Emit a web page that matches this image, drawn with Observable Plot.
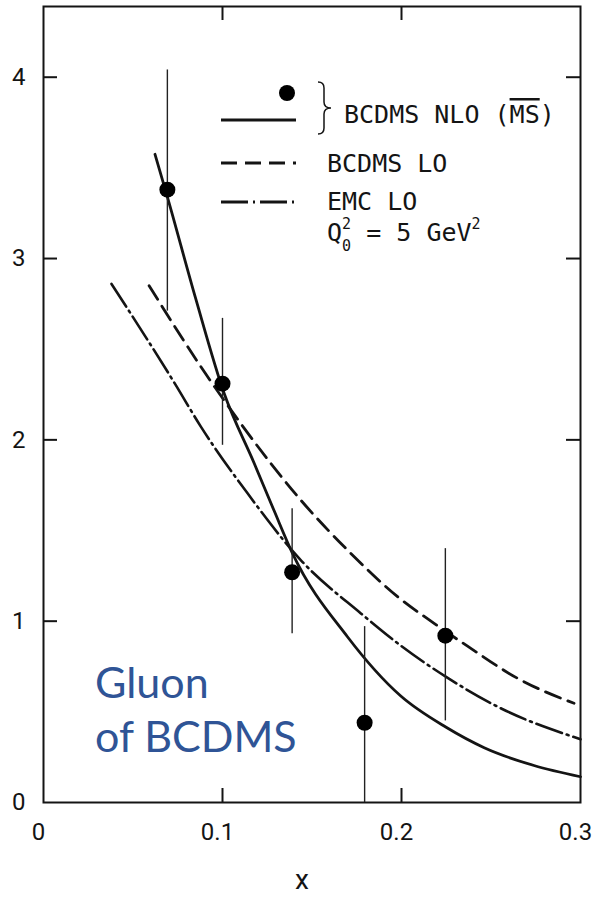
<!DOCTYPE html>
<html>
<head>
<meta charset="utf-8">
<script src="https://cdn.jsdelivr.net/npm/d3@7"></script>
<script src="https://cdn.jsdelivr.net/npm/@observablehq/plot@0.6"></script>
<style>
  html, body { margin: 0; padding: 0; background: #fff; }
  #chart { width: 595px; height: 902px; }
</style>
</head>
<body>
<div id="chart"></div>
<script>
// ---- axes / ticks ----
const xTicks = [0, 0.1, 0.2, 0.3];
const yTicks = [0, 1, 2, 3, 4];
const xDomain = [0, 0.3];
const yDomain = [0, 4.39];
const xTitle = "x";

// ---- BCDMS NLO (MS-bar) data points with errors ----
const dataX    = [0.0692, 0.1000, 0.1389, 0.1794, 0.2245];
const dataY    = [3.38,   2.31,   1.27,   0.44,   0.92];
const dataLow  = [2.71,   1.97,   0.93,   0.00,   0.45];
const dataHigh = [4.04,   2.67,   1.62,   0.97,   1.40];

// ---- BCDMS NLO (solid) ----
const nloX = [0.0623, 0.0692, 0.085, 0.1009, 0.1177, 0.1288, 0.1391, 0.1698, 0.1996, 0.2247, 0.2462, 0.274, 0.300];
const nloY = [3.575,  3.34,   2.78,  2.257,  1.871,  1.61,   1.374,  0.914,  0.587,  0.416,  0.302,  0.204, 0.142];

// ---- BCDMS LO (dashed) ----
const bcdmsLoX = [0.059, 0.0902, 0.1102, 0.1437, 0.1717, 0.1978, 0.2182, 0.2369, 0.2648, 0.2964];
const bcdmsLoY = [2.85,  2.37,   2.09,   1.668,  1.374,  1.135,  0.988,  0.862,  0.685,  0.547];

// ---- EMC LO (dash-dot) ----
const emcLoX = [0.038, 0.0734, 0.0879, 0.114, 0.1437, 0.1773, 0.1996, 0.2247, 0.2554, 0.300];
const emcLoY = [2.86,  2.31,   2.073,  1.705, 1.337,  1.043,  0.865,  0.694,  0.52,   0.349];

// ---- legend / annotation text ----
const legendLabels = ["BCDMS NLO (", "MS", ")", "BCDMS LO", "EMC LO"];
const annotationLines = ["Gluon", "of BCDMS"];

// ---- layout ----
const W = 595, H = 902, mL = 43, mR = 15, mT = 6, mB = 100;
const tickLenPx = 14;
const tx = tickLenPx * (xDomain[1] - xDomain[0]) / (W - mL - mR);
const ty = tickLenPx * (yDomain[1] - yDomain[0]) / (H - mT - mB);
const ink = "#141414";
const dashPattern = "16,8";
const dashDotPattern = "27,5,2,5";

const points = dataX.map((x, i) => ({x, y: dataY[i], lo: dataLow[i], hi: dataHigh[i]}));
const pairs = (xs, ys) => xs.map((x, i) => [x, ys[i]]);
const innerY = yTicks.filter(v => v > yDomain[0] && v < yDomain[1]);
const innerX = xTicks.filter(v => v > xDomain[0] && v < xDomain[1]);

const chart = Plot.plot({
  width: W, height: H,
  marginLeft: mL, marginRight: mR, marginTop: mT, marginBottom: mB,
  style: {background: "#fff", color: ink, fontFamily: "Roboto, 'DejaVu Sans', sans-serif"},
  x: {domain: xDomain, axis: null},
  y: {domain: yDomain, axis: null},
  marks: [
    Plot.frame({stroke: ink, strokeWidth: 2}),
    // inward ticks on all four sides
    Plot.ruleY(innerY, {x1: xDomain[0], x2: xDomain[0] + tx, stroke: ink, strokeWidth: 2}),
    Plot.ruleY(innerY, {x1: xDomain[1] - tx, x2: xDomain[1], stroke: ink, strokeWidth: 2}),
    Plot.ruleX(innerX, {y1: yDomain[0], y2: yDomain[0] + ty, stroke: ink, strokeWidth: 2}),
    Plot.ruleX(innerX, {y1: yDomain[1] - ty, y2: yDomain[1], stroke: ink, strokeWidth: 2}),
    // tick labels
    Plot.axisY(yTicks, {anchor: "left", tickSize: 0, tickPadding: 18, fontSize: 24, tickFormat: d => String(d), label: null}),
    Plot.axisX(xTicks, {anchor: "bottom", tickSize: 0, tickPadding: 20, fontSize: 24, dx: -5, tickFormat: d => String(d), label: null}),
    Plot.text([xTitle], {text: d => d, frameAnchor: "bottom", dx: -10, dy: 86, fontSize: 28}),
    // curves
    Plot.line(pairs(emcLoX, emcLoY), {curve: "monotone-x", stroke: ink, strokeWidth: 2.6, strokeDasharray: dashDotPattern}),
    Plot.line(pairs(bcdmsLoX, bcdmsLoY), {curve: "monotone-x", stroke: ink, strokeWidth: 2.8, strokeDasharray: dashPattern}),
    Plot.line(pairs(nloX, nloY), {curve: "monotone-x", stroke: ink, strokeWidth: 2.8}),
    // data with error bars
    Plot.ruleX(points, {x: "x", y1: "lo", y2: "hi", stroke: "#222", strokeWidth: 1.4}),
    Plot.dot(points, {x: "x", y: "y", r: 8, fill: "#000", stroke: "none"})
  ]
});
document.getElementById("chart").appendChild(chart);

// ---- legend (layout element, drawn into the plot's SVG) ----
const svg = d3.select(chart);
const lg = svg.append("g")
  .attr("font-family", "'DejaVu Sans Mono', monospace")
  .attr("font-size", 25)
  .attr("text-anchor", "start")
  .attr("fill", ink);
lg.append("circle").attr("cx", 287).attr("cy", 93).attr("r", 8).attr("fill", "#000");
const legendLines = [
  {y: 120, dash: null},
  {y: 163, dash: dashPattern},
  {y: 202, dash: dashDotPattern}
];
legendLines.forEach(d => {
  lg.append("line").attr("x1", 221).attr("x2", 296).attr("y1", d.y).attr("y2", d.y)
    .attr("stroke", ink).attr("stroke-width", 3)
    .attr("stroke-dasharray", d.dash);
});
// curly brace
lg.append("path")
  .attr("d", "M318,82 q6,0 6,6 v14 q0,6 7,6 q-7,0 -7,6 v14 q0,6 -6,6")
  .attr("fill", "none").attr("stroke", ink).attr("stroke-width", 1.5);
const t1 = lg.append("text").attr("x", 344).attr("y", 123);
t1.append("tspan").text(legendLabels[0]);
t1.append("tspan").style("text-decoration", "overline").text(legendLabels[1]);
t1.append("tspan").text(legendLabels[2]);
lg.append("text").attr("x", 327).attr("y", 172).text(legendLabels[3]);
lg.append("text").attr("x", 327).attr("y", 210).text(legendLabels[4]);
const tq = lg.append("text").attr("x", 327).attr("y", 241);
tq.append("tspan").text("Q");
tq.append("tspan").attr("font-size", 15).attr("dy", -12).text("2");
tq.append("tspan").attr("font-size", 15).attr("dx", -9).attr("dy", 22).text("0");
tq.append("tspan").attr("dy", -10).text(" = 5 GeV");
tq.append("tspan").attr("font-size", 15).attr("dy", -12).text("2");

// ---- blue annotation ----
const ann = svg.append("text")
  .attr("font-family", "Lato, 'Open Sans', sans-serif")
  .attr("font-size", 43)
  .attr("text-anchor", "start")
  .attr("fill", "#2F5496");
annotationLines.forEach((s, i) => {
  ann.append("tspan").attr("x", 95).attr("y", 698 + i * 53.5).text(s);
});
</script>
</body>
</html>
